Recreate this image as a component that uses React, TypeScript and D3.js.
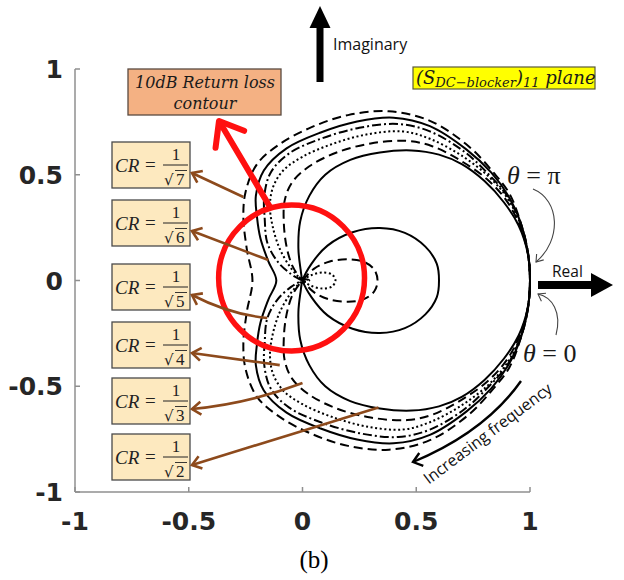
import React from 'react';
import * as d3 from 'd3';

type P = [number, number];

// Axis ticks
const xTicks = [-1, -0.5, 0, 0.5, 1];
const yTicks = [-1, -0.5, 0, 0.5, 1];
const tickText = ['-1', '-0.5', '0', '0.5', '1'];

// Coupling ratios CR = 1/sqrt(n), one trace per n
const crDenominators = ['7', '6', '5', '4', '3', '2'];

// (S_DC-blocker)_11 traces, half path (theta 0 -> pi/2):
// lower outer loop from (1,0), then upper half of the inner loop (if any).
const traceCR2: P[] = [
  [1.0, 0], [0.99, -0.13], [0.95, -0.26], [0.885, -0.37], [0.8, -0.47], [0.7, -0.55], [0.6, -0.595],
  [0.48, -0.615], [0.34, -0.605], [0.21, -0.57], [0.1, -0.5], [0.03, -0.4], [-0.01, -0.28], [-0.018, -0.15],
  [-0.008, -0.05], [0, 0],
  [0.04, 0.08], [0.11, 0.165], [0.22, 0.228], [0.34, 0.248], [0.45, 0.225], [0.54, 0.16], [0.59, 0.08], [0.6, 0],
];
const traceCR3: P[] = [
  [1.0, 0], [0.99, -0.13], [0.955, -0.26], [0.895, -0.38], [0.81, -0.48], [0.69, -0.57], [0.57, -0.635],
  [0.46, -0.66], [0.3, -0.648], [0.15, -0.605], [0.03, -0.54], [-0.045, -0.465], [-0.078, -0.38], [-0.082, -0.27],
  [-0.07, -0.16], [-0.045, -0.07], [-0.016, -0.02], [0, 0],
  [0.05, 0.055], [0.12, 0.09], [0.2, 0.1], [0.27, 0.088], [0.315, 0.052], [0.33, 0],
];
const traceCR4: P[] = [
  [1.0, 0], [0.99, -0.13], [0.96, -0.26], [0.9, -0.39], [0.82, -0.49], [0.7, -0.59], [0.56, -0.67],
  [0.44, -0.705], [0.28, -0.69], [0.13, -0.645], [0.0, -0.585], [-0.085, -0.52], [-0.13, -0.44], [-0.143, -0.35],
  [-0.13, -0.25], [-0.1, -0.15], [-0.055, -0.065], [-0.02, -0.02], [0, 0],
  [0.04, 0.026], [0.09, 0.038], [0.13, 0.028], [0.145, 0],
];
const traceCR5: P[] = [
  [1.0, 0], [0.99, -0.135], [0.96, -0.265], [0.9, -0.4], [0.82, -0.5], [0.71, -0.61], [0.56, -0.705],
  [0.42, -0.74], [0.25, -0.722], [0.08, -0.67], [-0.06, -0.6], [-0.14, -0.51], [-0.168, -0.4], [-0.166, -0.29],
  [-0.155, -0.18], [-0.11, -0.09], [-0.05, -0.03], [-0.012, -0.006], [0.015, 0.006], [0.03, 0],
];
const traceCR6: P[] = [
  [1.0, 0], [0.99, -0.14], [0.96, -0.27], [0.905, -0.4], [0.83, -0.51], [0.72, -0.62], [0.56, -0.73],
  [0.4, -0.77], [0.24, -0.752], [0.08, -0.7], [-0.07, -0.625], [-0.17, -0.52], [-0.205, -0.4], [-0.2, -0.3],
  [-0.185, -0.2], [-0.15, -0.09], [-0.115, 0],
];
const traceCR7: P[] = [
  [1.0, 0], [0.99, -0.14], [0.96, -0.27], [0.91, -0.41], [0.84, -0.51], [0.73, -0.635], [0.56, -0.755],
  [0.38, -0.8], [0.2, -0.782], [0.04, -0.725], [-0.1, -0.645], [-0.2, -0.55], [-0.25, -0.42], [-0.26, -0.3],
  [-0.245, -0.15], [-0.22, 0],
];

const traces = [traceCR2, traceCR3, traceCR4, traceCR5, traceCR6, traceCR7];
// MATLAB-like line style cycle: '-', '--', ':', '-.', '-', '--'
const traceDash = ['none', '9,5', '2,2.6', '9,3,2,3', 'none', '9,5'];

// Where each CR callout arrow touches its trace (same order as crDenominators)
const calloutTargets: P[] = [
  [-0.26, 0.395], [-0.15, 0.097], [-0.155, -0.177], [-0.1, -0.4], [0.0, -0.485], [0.334, -0.6],
];

// Return-loss contour: |S11| = 10^(-10/20)
const returnLossDb = 10;

function mirrorClose(half: P[]): P[] {
  const back = half.slice(1, -1).reverse().map(([re, im]) => [re, -im] as P);
  return half.concat(back);
}

function chevron(tip: P, from: P, len: number, deg: number): string {
  const a = Math.atan2(from[1] - tip[1], from[0] - tip[0]);
  const r = (deg * Math.PI) / 180;
  const p1: P = [tip[0] + len * Math.cos(a + r), tip[1] + len * Math.sin(a + r)];
  const p2: P = [tip[0] + len * Math.cos(a - r), tip[1] + len * Math.sin(a - r)];
  return `M${p1[0]},${p1[1]}L${tip[0]},${tip[1]}L${p2[0]},${p2[1]}`;
}

const SERIF = '"DejaVu Serif", "Liberation Serif", serif';
const SERIF2 = '"Liberation Serif", "DejaVu Serif", serif';
const SANS = '"Open Sans", "Noto Sans", sans-serif';
const BROWN = '#8d4a1c';

export default function App() {
  const x = d3.scaleLinear().domain([-1, 1]).range([75, 530]);
  const y = d3.scaleLinear().domain([-1, 1]).range([492, 69]);
  const line = d3
    .line<P>()
    .x((d) => x(d[0]))
    .y((d) => y(d[1]))
    .curve(d3.curveCatmullRomClosed.alpha(0.5));

  const rlRadius = Math.pow(10, -returnLossDb / 20);
  const rlCx = x(-0.048);
  const rlCy = y(0.012);
  const rlR = x(rlRadius) - x(0) + 1;

  const boxX = 112;
  const boxW = 78;
  const boxH = 46;
  const boxTops = [142, 200, 264, 322, 378, 434];

  const redTail: P = [270, 207];
  const redTip: P = [219, 121];

  const incStart: P = [521, 381];
  const incEnd: P = [413, 462];

  return (
    <div style={{ position: 'absolute', left: 0, top: 0 }}>
      <svg width={624} height={580} style={{ display: 'block', background: '#fff' }}>
        {/* axes */}
        <g stroke="#8f8f8f" strokeWidth={1.5} fill="none">
          <line x1={x(-1)} x2={x(-1)} y1={y(1)} y2={y(-1)} />
          <line x1={x(-1)} x2={x(1)} y1={y(-1)} y2={y(-1)} />
          {yTicks.map((t) => (
            <line key={'yt' + t} x1={x(-1)} x2={x(-1) + 5} y1={y(t)} y2={y(t)} />
          ))}
          {xTicks.map((t) => (
            <line key={'xt' + t} x1={x(t)} x2={x(t)} y1={y(-1)} y2={y(-1) - 5} />
          ))}
        </g>
        <g fontFamily='"DejaVu Sans", sans-serif' fontWeight="bold" fontSize={25} fill="#262626">
          {yTicks.map((t, i) => (
            <text key={'yl' + t} x={x(-1) - 12} y={y(t)} dy="0.36em" textAnchor="end">
              {tickText[i]}
            </text>
          ))}
          {xTicks.map((t, i) => (
            <text key={'xl' + t} x={x(t)} y={y(-1) + 38} textAnchor="middle">
              {tickText[i]}
            </text>
          ))}
        </g>

        {/* S11 traces */}
        <g fill="none" stroke="#000" strokeWidth={2}>
          {traces.map((tr, i) => (
            <path
              key={'tr' + i}
              d={line(mirrorClose(tr)) || ''}
              strokeDasharray={traceDash[i] === 'none' ? undefined : traceDash[i]}
            />
          ))}
        </g>

        {/* 10 dB return loss contour */}
        <circle cx={rlCx} cy={rlCy} r={rlR} fill="none" stroke="#ff1010" strokeWidth={5.5} />
        <g stroke="#ff1010" strokeWidth={6} fill="none" strokeLinecap="round" strokeLinejoin="round">
          <line x1={redTail[0]} y1={redTail[1]} x2={redTip[0] + 3} y2={redTip[1] + 5} />
          <path d={chevron(redTip, redTail, 27, 38)} />
        </g>
        <rect x={128} y={69} width={153} height={46} fill="#f4b183" stroke="#5a4a40" strokeWidth={1.3} />
        <g fontFamily={SERIF} fontStyle="italic" fontSize={16} fill="#1a1a1a" textAnchor="middle">
          <text x={205} y={88}>10dB Return loss</text>
          <text x={205} y={109}>contour</text>
        </g>

        {/* CR callouts */}
        {crDenominators.map((n, i) => {
          const top = boxTops[i];
          const head: P = [boxX + boxW + 2, top + 31];
          const tgt = calloutTargets[i];
          const tail: P = [x(tgt[0]), y(tgt[1])];
          const bend = i === 2 || i === 4 ? 8 : 0;
          const mid: P = [(head[0] + tail[0]) / 2, (head[1] + tail[1]) / 2 + bend];
          return (
            <g key={'cr' + n}>
              <rect x={boxX} y={top} width={boxW} height={boxH} fill="#fde9bf" stroke="#4a4a4a" strokeWidth={1.3} />
              <text x={boxX + 3} y={top + 30} fontFamily={SERIF2} fontStyle="italic" fontSize={19} fill="#222">
                CR
              </text>
              <text x={boxX + 33} y={top + 29} fontFamily={SERIF2} fontSize={19} fill="#222">
                =
              </text>
              <text x={boxX + 64} y={top + 18} fontFamily={SERIF2} fontSize={17} fill="#222" textAnchor="middle">
                1
              </text>
              <line x1={boxX + 51} x2={boxX + 76} y1={top + 23} y2={top + 23} stroke="#222" strokeWidth={1} />
              <text x={boxX + 52} y={top + 43} fontFamily={SERIF} fontSize={15} fill="#222">
                √
              </text>
              <line x1={boxX + 63} x2={boxX + 75} y1={top + 28.5} y2={top + 28.5} stroke="#222" strokeWidth={0.9} />
              <text x={boxX + 64} y={top + 43} fontFamily={SERIF2} fontSize={17} fill="#222">
                {n}
              </text>
              <path
                d={`M${tail[0]},${tail[1]}Q${mid[0]},${mid[1]} ${head[0]},${head[1]}`}
                fill="none"
                stroke={BROWN}
                strokeWidth={2.6}
              />
              <path d={chevron(head, mid, 11, 36)} fill="none" stroke={BROWN} strokeWidth={2.6} />
            </g>
          );
        })}

        {/* Imaginary axis arrow */}
        <rect x={316.5} y={26} width={7} height={56} fill="#000" />
        <path d="M309.5,28L320,6L330.5,28Z" fill="#000" />
        <text x={333} y={50} fontFamily={SANS} fontSize={16} fill="#111">
          Imaginary
        </text>

        {/* Real axis arrow */}
        <rect x={538} y={281} width={55} height={8} fill="#000" />
        <path d="M591,273L613,285L591,297Z" fill="#000" />
        <text x={552} y={277} fontFamily={SANS} fontSize={15.5} fill="#111">
          Real
        </text>

        {/* plane label */}
        <rect x={413} y={67} width={182} height={22} fill="#ffff00" stroke="#5a5a3a" strokeWidth={1.2} />
        <text x={416} y={84} fontFamily={SERIF} fontStyle="italic" fontSize={18} fill="#1a1a1a">
          (S
          <tspan fontSize={13} dy={3}>
            DC−blocker
          </tspan>
          <tspan dy={-3}>)</tspan>
          <tspan fontSize={13} dy={3}>
            11
          </tspan>
          <tspan dy={-3}> plane</tspan>
        </text>

        {/* theta markers */}
        <g fontFamily={SERIF2} fontSize={26} fill="#1a1a1a">
          <text x={507} y={184}>
            <tspan fontStyle="italic">θ</tspan> = π
          </text>
          <text x={523} y={362}>
            <tspan fontStyle="italic">θ</tspan> = 0
          </text>
        </g>
        <g fill="none" stroke="#444" strokeWidth={1.1}>
          <path d="M533,189C560,200 562,240 536,262" />
          <path d={chevron([536, 262], [550, 245], 8, 35)} />
          <path d="M556,335C562,312 552,297 538,294" />
          <path d={chevron([538, 294], [552, 302], 8, 35)} />
        </g>

        {/* increasing frequency */}
        <path
          d={`M${incStart[0]},${incStart[1]}Q${485},${432} ${incEnd[0]},${incEnd[1]}`}
          fill="none"
          stroke="#000"
          strokeWidth={2.4}
        />
        <path d={chevron(incEnd, [445, 452], 11, 38)} fill="none" stroke="#000" strokeWidth={2.4} />
        <text
          x={491}
          y={438}
          transform="rotate(-37 491 438)"
          textAnchor="middle"
          fontFamily={SANS}
          fontSize={16}
          fill="#111"
        >
          Increasing frequency
        </text>

        {/* caption */}
        <text x={314} y={568} textAnchor="middle" fontFamily={SERIF2} fontSize={25} fill="#000">
          (b)
        </text>
      </svg>
    </div>
  );
}
